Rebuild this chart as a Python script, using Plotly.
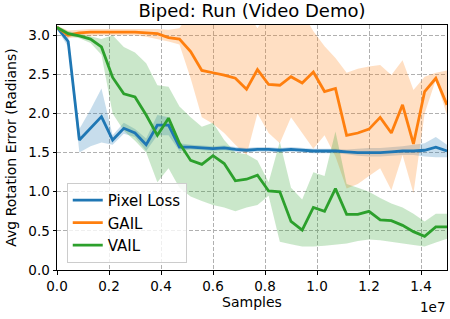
import plotly.graph_objects as go

# ---- data (samples in millions) ----
samples_m = [0.0, 0.43, 0.86, 1.29, 1.71, 2.14, 2.57, 3.0, 3.43, 3.86, 4.29, 4.71,
             5.14, 5.57, 6.0, 6.43, 6.86, 7.29, 7.71, 8.14, 8.57, 9.0, 9.43, 9.86,
             10.29, 10.71, 11.14, 11.57, 12.0, 12.43, 12.86, 13.29, 13.71, 14.14, 14.57, 15.0]

pixel_mean = [3.10, 2.92, 1.66, 1.81, 1.96, 1.66, 1.81, 1.75, 1.60, 1.85, 1.85, 1.57,
              1.57, 1.56, 1.55, 1.56, 1.54, 1.53, 1.54, 1.54, 1.53, 1.54, 1.53, 1.52,
              1.52, 1.52, 1.51, 1.50, 1.50, 1.50, 1.51, 1.52, 1.52, 1.53, 1.57, 1.52]
pixel_upper = [3.12, 2.98, 1.80, 2.05, 2.32, 1.72, 1.88, 1.80, 1.68, 1.98, 1.95, 1.62,
               1.60, 1.59, 1.58, 1.59, 1.57, 1.56, 1.57, 1.57, 1.56, 1.57, 1.56, 1.55,
               1.55, 1.55, 1.54, 1.55, 1.56, 1.56, 1.57, 1.58, 1.60, 1.62, 1.70, 1.60]
pixel_lower = [3.08, 2.85, 1.50, 1.58, 1.63, 1.60, 1.74, 1.70, 1.52, 1.72, 1.72, 1.52,
               1.54, 1.53, 1.52, 1.53, 1.51, 1.50, 1.51, 1.51, 1.50, 1.51, 1.50, 1.49,
               1.49, 1.49, 1.48, 1.46, 1.45, 1.45, 1.46, 1.47, 1.47, 1.45, 1.44, 1.44]

gail_mean = [3.10, 3.00, 3.03, 3.04, 3.04, 3.04, 3.04, 3.04, 3.03, 3.02, 2.97, 2.95,
             2.79, 2.55, 2.52, 2.49, 2.45, 2.31, 2.56, 2.37, 2.36, 2.47, 2.39, 2.53,
             2.28, 2.32, 1.72, 1.75, 1.80, 1.95, 1.75, 2.11, 1.61, 2.28, 2.45, 2.11]
gail_upper = [3.12, 3.06, 3.07, 3.08, 3.08, 3.08, 3.08, 3.08, 3.08, 3.08, 3.07, 3.09,
              3.30, 3.30, 3.30, 3.30, 3.30, 3.30, 3.09, 3.30, 3.30, 3.30, 3.30, 3.05,
              2.86, 2.71, 2.52, 2.57, 2.60, 2.62, 2.49, 2.68, 2.30, 2.47, 2.52, 2.55]
gail_lower = [3.08, 2.96, 2.98, 2.99, 3.00, 3.00, 3.00, 3.00, 2.98, 2.95, 2.92, 2.88,
              2.45, 1.95, 1.87, 1.75, 1.60, 1.47, 2.00, 1.75, 1.62, 1.95, 1.75, 1.55,
              1.72, 1.45, 1.04, 1.10, 1.20, 1.30, 1.02, 1.47, 0.98, 2.00, 2.43, 1.98]

vail_mean = [3.10, 3.02, 2.99, 2.95, 2.85, 2.46, 2.25, 2.21, 1.98, 1.72, 1.94, 1.62,
             1.40, 1.35, 1.46, 1.36, 1.14, 1.16, 1.21, 1.01, 1.00, 0.62, 0.51, 0.80,
             0.75, 1.04, 0.71, 0.71, 0.75, 0.64, 0.63, 0.57, 0.49, 0.43, 0.55, 0.55]
vail_upper = [3.12, 3.05, 3.02, 2.98, 2.95, 3.00, 2.85, 2.78, 2.64, 2.36, 2.34, 2.09,
              1.95, 1.83, 1.88, 1.66, 1.50, 1.48, 1.40, 1.12, 1.64, 1.05, 0.90, 1.25,
              1.20, 1.77, 1.10, 1.05, 1.00, 0.92, 0.85, 0.80, 0.72, 0.62, 0.72, 0.72]
vail_lower = [3.08, 2.99, 2.96, 2.90, 2.75, 2.00, 1.78, 1.65, 1.50, 1.12, 1.30, 1.05,
              0.94, 0.88, 0.83, 0.80, 0.75, 0.80, 0.83, 0.95, 0.36, 0.33, 0.30, 0.30,
              0.31, 0.32, 0.34, 0.37, 0.39, 0.38, 0.36, 0.34, 0.32, 0.30, 0.35, 0.40]

x_ticks = [0.0, 0.2, 0.4, 0.6, 0.8, 1.0, 1.2, 1.4]      # in units of 1e7
x_tick_labels = ["0.0", "0.2", "0.4", "0.6", "0.8", "1.0", "1.2", "1.4"]
y_ticks = [0.0, 0.5, 1.0, 1.5, 2.0, 2.5, 3.0]
y_tick_labels = ["0.0", "0.5", "1.0", "1.5", "2.0", "2.5", "3.0"]

series = [
    ("Pixel Loss", pixel_mean, pixel_lower, pixel_upper, "#1f77b4", "rgba(31,119,180,0.25)"),
    ("GAIL", gail_mean, gail_lower, gail_upper, "#ff7f0e", "rgba(255,127,14,0.25)"),
    ("VAIL", vail_mean, vail_lower, vail_upper, "#2ca02c", "rgba(44,160,44,0.25)"),
]

x = [s * 1e6 for s in samples_m]
FONT = "DejaVu Sans"

fig = go.Figure()
for name, mean, lo, hi, col, fcol in series:
    fig.add_trace(go.Scatter(x=x + x[::-1], y=hi + lo[::-1], fill="toself",
                             fillcolor=fcol, line=dict(width=0), mode="lines",
                             hoverinfo="skip", showlegend=False))
for name, mean, lo, hi, col, fcol in series:
    fig.add_trace(go.Scatter(x=x, y=mean, mode="lines", name=name,
                             line=dict(color=col, width=2.8)))

axis_common = dict(showline=True, linecolor="black", linewidth=1, mirror=True,
                   ticks="outside", ticklen=3.5, tickwidth=1, tickcolor="black",
                   showgrid=True, gridcolor="#b0b0b0", gridwidth=0.8, griddash="4px,2px",
                   zeroline=False, automargin=False,
                   tickfont=dict(family=FONT, size=13.5, color="black"))

fig.update_layout(
    width=450, height=319,
    margin=dict(l=57, r=3, t=25, b=49),
    paper_bgcolor="white", plot_bgcolor="white",
    font=dict(family=FONT, color="black"),
    title=dict(text="Biped: Run (Video Demo)", font=dict(family=FONT, size=18, color="black"),
               x=0.56, xanchor="center", xref="container",
               y=1 - 11 / 319, yanchor="middle", yref="container"),
    xaxis=dict(range=[0, 1.5e7], tickvals=[v * 1e7 for v in x_ticks], ticktext=x_tick_labels,
               title=dict(text="Samples", font=dict(family=FONT, size=14, color="black"), standoff=4),
               **axis_common),
    yaxis=dict(range=[0, 3.13], tickvals=y_ticks, ticktext=y_tick_labels,
               title=dict(text="Avg Rotation Error (Radians)", font=dict(family=FONT, size=14, color="black"), standoff=8),
               **axis_common),
    legend=dict(x=0.025, y=0.029, xanchor="left", yanchor="bottom",
                bgcolor="rgba(255,255,255,0.8)", bordercolor="#cccccc", borderwidth=1,
                font=dict(family=FONT, size=15, color="black"), tracegroupgap=0),
    annotations=[dict(text="1e7", x=1.0, xref="paper", xanchor="right",
                      y=-0.151, yref="paper", yanchor="middle", showarrow=False,
                      font=dict(family=FONT, size=13.5, color="black"))],
)

fig.write_html("out.html", config={"displayModeBar": False},
               post_script="document.body.style.margin='0';document.body.style.padding='0';")
